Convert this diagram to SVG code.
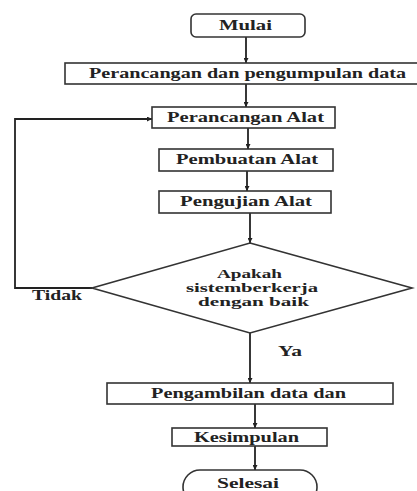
<svg xmlns="http://www.w3.org/2000/svg" width="417" height="491" viewBox="0 0 417 491">
<defs>
<marker id="ah" viewBox="0 0 10 10" refX="10" refY="5" markerWidth="5" markerHeight="5" orient="auto" markerUnits="userSpaceOnUse">
<path d="M0,0 L10,5 L0,10 z" fill="#222"/>
</marker>
<style>
.box{fill:#fff;stroke:#333;stroke-width:1.6}
.t{font-family:"Liberation Serif","DejaVu Serif","Times New Roman",serif;font-weight:bold;font-size:14px;fill:#222;text-anchor:start}
.d{font-size:12px}
.c{fill:none;stroke:#222;stroke-width:1.8;marker-end:url(#ah)}
</style>
</defs>
<rect width="417" height="491" fill="#fff"/>
<g id="connectors">
<line class="c" x1="246" y1="37" x2="246" y2="63"/>
<line class="c" x1="246" y1="84" x2="246" y2="107"/>
<line class="c" x1="248" y1="128" x2="248" y2="149"/>
<line class="c" x1="247" y1="171" x2="247" y2="191"/>
<line class="c" x1="250" y1="213" x2="250" y2="243"/>
<line class="c" x1="250" y1="333" x2="250" y2="383"/>
<line class="c" x1="255" y1="404" x2="255" y2="428"/>
<line class="c" x1="255" y1="446" x2="255" y2="470"/>
<polyline class="c" points="92,288 15,288 15,119 152,119"/>
</g>
<g id="mulai">
<rect class="box" x="191" y="14" width="114" height="23" rx="5"/>
<text class="t" x="219" y="30" textLength="53" lengthAdjust="spacingAndGlyphs">Mulai</text>
</g>
<g id="perancangan-data">
<rect class="box" x="65" y="63" width="356" height="21"/>
<text class="t" x="89" y="78" textLength="317" lengthAdjust="spacingAndGlyphs">Perancangan dan pengumpulan data</text>
</g>
<g id="perancangan-alat">
<rect class="box" x="152" y="107" width="183" height="21"/>
<text class="t" x="167" y="122" textLength="157" lengthAdjust="spacingAndGlyphs">Perancangan Alat</text>
</g>
<g id="pembuatan-alat">
<rect class="box" x="159" y="149" width="174" height="22"/>
<text class="t" x="176" y="164" textLength="142" lengthAdjust="spacingAndGlyphs">Pembuatan Alat</text>
</g>
<g id="pengujian-alat">
<rect class="box" x="159" y="191" width="172" height="22"/>
<text class="t" x="180" y="206" textLength="132" lengthAdjust="spacingAndGlyphs">Pengujian Alat</text>
</g>
<g id="keputusan">
<polygon class="box" points="250,243 412,288 250,333 92,288"/>
<text class="t d" x="217" y="278" textLength="65" lengthAdjust="spacingAndGlyphs">Apakah</text>
<text class="t d" x="186" y="292" textLength="132" lengthAdjust="spacingAndGlyphs">sistemberkerja</text>
<text class="t d" x="198" y="306" textLength="111" lengthAdjust="spacingAndGlyphs">dengan baik</text>
</g>
<g id="label-tidak">
<text class="t" x="32" y="300" textLength="50" lengthAdjust="spacingAndGlyphs">Tidak</text>
</g>
<g id="label-ya">
<text class="t" x="278" y="356" textLength="24" lengthAdjust="spacingAndGlyphs">Ya</text>
</g>
<g id="pengambilan-data">
<rect class="box" x="107" y="383" width="286" height="21"/>
<text class="t" x="151" y="398" textLength="195" lengthAdjust="spacingAndGlyphs">Pengambilan data dan</text>
</g>
<g id="kesimpulan">
<rect class="box" x="172" y="428" width="155" height="18"/>
<text class="t" x="194" y="442" textLength="105" lengthAdjust="spacingAndGlyphs">Kesimpulan</text>
</g>
<g id="selesai">
<rect class="box" x="183" y="470" width="134" height="34" rx="17"/>
<text class="t" x="217" y="488" textLength="62" lengthAdjust="spacingAndGlyphs">Selesai</text>
</g>
</svg>
